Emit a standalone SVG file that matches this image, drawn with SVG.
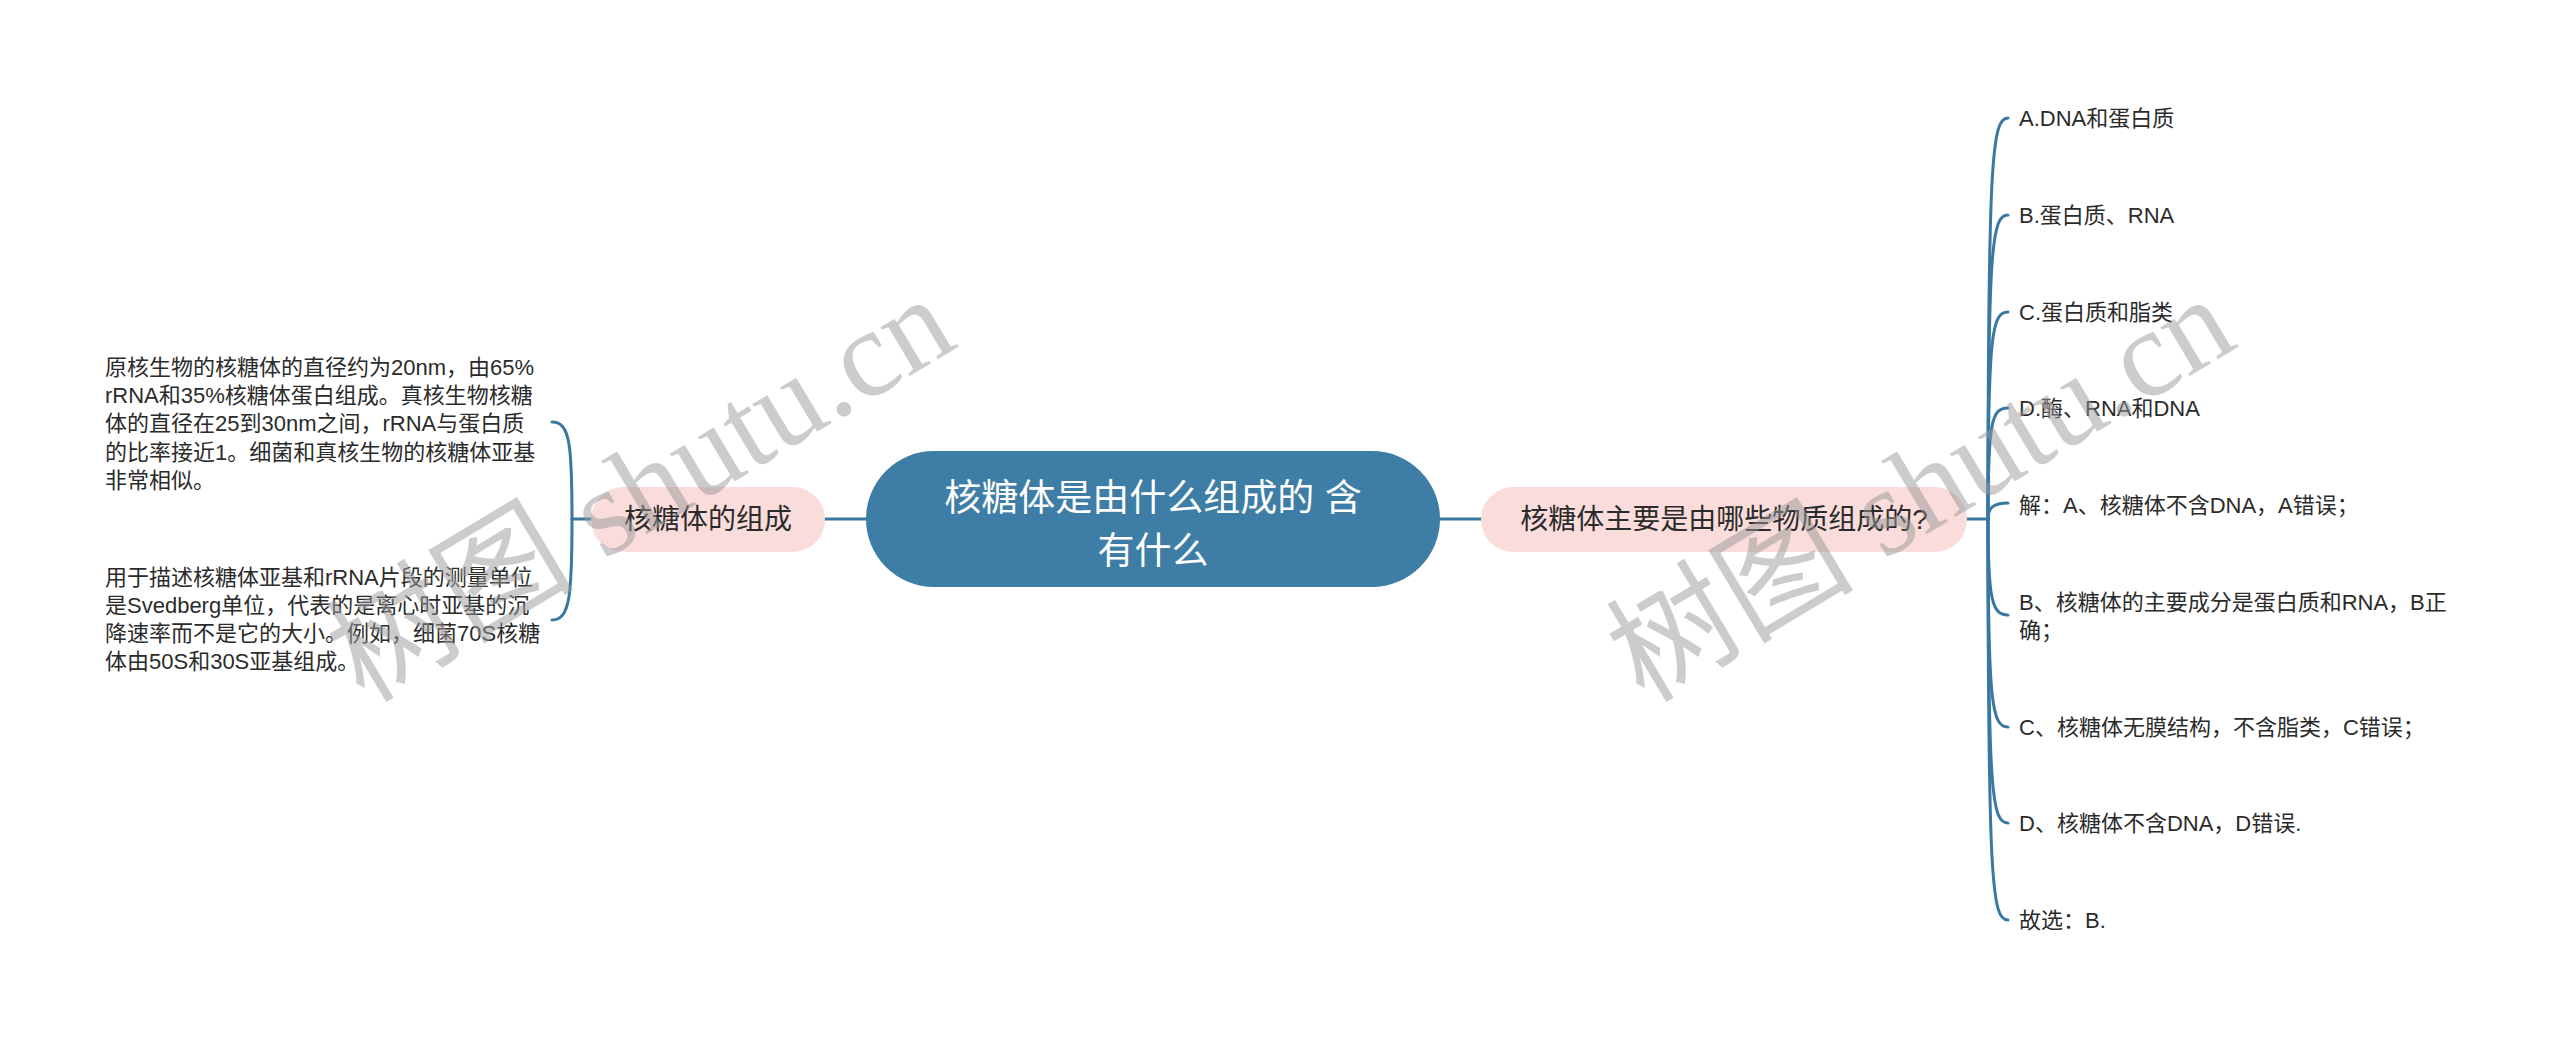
<svg xmlns="http://www.w3.org/2000/svg" width="2560" height="1039" viewBox="0 0 2560 1039">
<style>
.t{font-family:"Liberation Sans","Noto Sans CJK SC",sans-serif;fill:#2b2b2b}
.leaf{font-size:22px}
.sub{font-size:28px}
.root{font-size:37px;fill:#ffffff}
.pink{fill:#fadcdb}
.conn{fill:none;stroke:#3a78a1;stroke-width:3;stroke-linecap:round}
.wm{font-family:"Liberation Serif","Noto Sans CJK SC",serif;font-size:124px;fill:#9a9a9a;opacity:0.5}
</style>
<rect width="2560" height="1039" fill="#ffffff"/>
<g id="connectors">
<line class="conn" x1="825" y1="519" x2="866" y2="519"/>
<line class="conn" x1="1440" y1="519" x2="1481" y2="519"/>
<line class="conn" x1="591" y1="519" x2="572" y2="519"/>
<path class="conn" d="M572,519 C572,445 570,422 552,422"/>
<path class="conn" d="M572,519 C572,595 570,620 552,620"/>
<line class="conn" x1="1967" y1="519" x2="1988" y2="519"/>
<path class="conn" d="M1988,519 C1988,158 1992,118 2008,118"/>
<path class="conn" d="M1988,519 C1988,245 1992,215 2008,215"/>
<path class="conn" d="M1988,519 C1988,333 1992,312 2008,312"/>
<path class="conn" d="M1988,519 C1988,420 1992,408 2008,408"/>
<path class="conn" d="M1988,519 C1988,508 1993,503 2008,503"/>
<path class="conn" d="M1988,519 C1988,600 1992,615 2008,615"/>
<path class="conn" d="M1988,519 C1988,705 1992,727 2008,727"/>
<path class="conn" d="M1988,519 C1988,795 1992,823 2008,823"/>
<path class="conn" d="M1988,519 C1988,885 1992,920 2008,920"/>
</g>
<g id="root">
<rect x="866" y="451" width="574" height="136" rx="68" fill="#3e7ea6"/>
<text class="t root" text-anchor="middle" x="1153" y="511">核糖体是由什么组成的 含</text>
<text class="t root" text-anchor="middle" x="1153" y="564">有什么</text>
</g>
<g id="left-topic">
<rect class="pink" x="591" y="487" width="234" height="65" rx="32.5"/>
<text class="t sub" text-anchor="middle" x="708" y="529">核糖体的组成</text>
</g>
<g id="left-leaf-1">
<text class="t leaf" x="105" y="375">原核生物的核糖体的直径约为20nm，由65%</text>
<text class="t leaf" x="105" y="403">rRNA和35%核糖体蛋白组成。真核生物核糖</text>
<text class="t leaf" x="105" y="431">体的直径在25到30nm之间，rRNA与蛋白质</text>
<text class="t leaf" x="105" y="460">的比率接近1。细菌和真核生物的核糖体亚基</text>
<text class="t leaf" x="105" y="488">非常相似。</text>
</g>
<g id="left-leaf-2">
<text class="t leaf" x="105" y="585">用于描述核糖体亚基和rRNA片段的测量单位</text>
<text class="t leaf" x="105" y="613">是Svedberg单位，代表的是离心时亚基的沉</text>
<text class="t leaf" x="105" y="641">降速率而不是它的大小。例如，细菌70S核糖</text>
<text class="t leaf" x="105" y="669">体由50S和30S亚基组成。</text>
</g>
<g id="right-topic">
<rect class="pink" x="1481" y="487" width="486" height="65" rx="32.5"/>
<text class="t sub" text-anchor="middle" x="1724" y="529">核糖体主要是由哪些物质组成的?</text>
</g>
<g id="right-leaf-a"><text class="t leaf" x="2019" y="126">A.DNA和蛋白质</text></g>
<g id="right-leaf-b"><text class="t leaf" x="2019" y="223">B.蛋白质、RNA</text></g>
<g id="right-leaf-c"><text class="t leaf" x="2019" y="320">C.蛋白质和脂类</text></g>
<g id="right-leaf-d"><text class="t leaf" x="2019" y="416">D.酶、RNA和DNA</text></g>
<g id="right-leaf-e"><text class="t leaf" x="2019" y="513">解：A、核糖体不含DNA，A错误；</text></g>
<g id="right-leaf-f"><text class="t leaf" x="2019" y="610">B、核糖体的主要成分是蛋白质和RNA，B正</text><text class="t leaf" x="2019" y="638">确；</text></g>
<g id="right-leaf-g"><text class="t leaf" x="2019" y="735">C、核糖体无膜结构，不含脂类，C错误；</text></g>
<g id="right-leaf-h"><text class="t leaf" x="2019" y="831">D、核糖体不含DNA，D错误.</text></g>
<g id="right-leaf-i"><text class="t leaf" x="2019" y="928">故选：B.</text></g>
<g id="watermark">
<text class="wm" x="364" y="704" transform="rotate(-31 364 704)">树图 shutu.cn</text>
<text class="wm" x="1644" y="704" transform="rotate(-31 1644 704)">树图 shutu.cn</text>
</g>
</svg>
